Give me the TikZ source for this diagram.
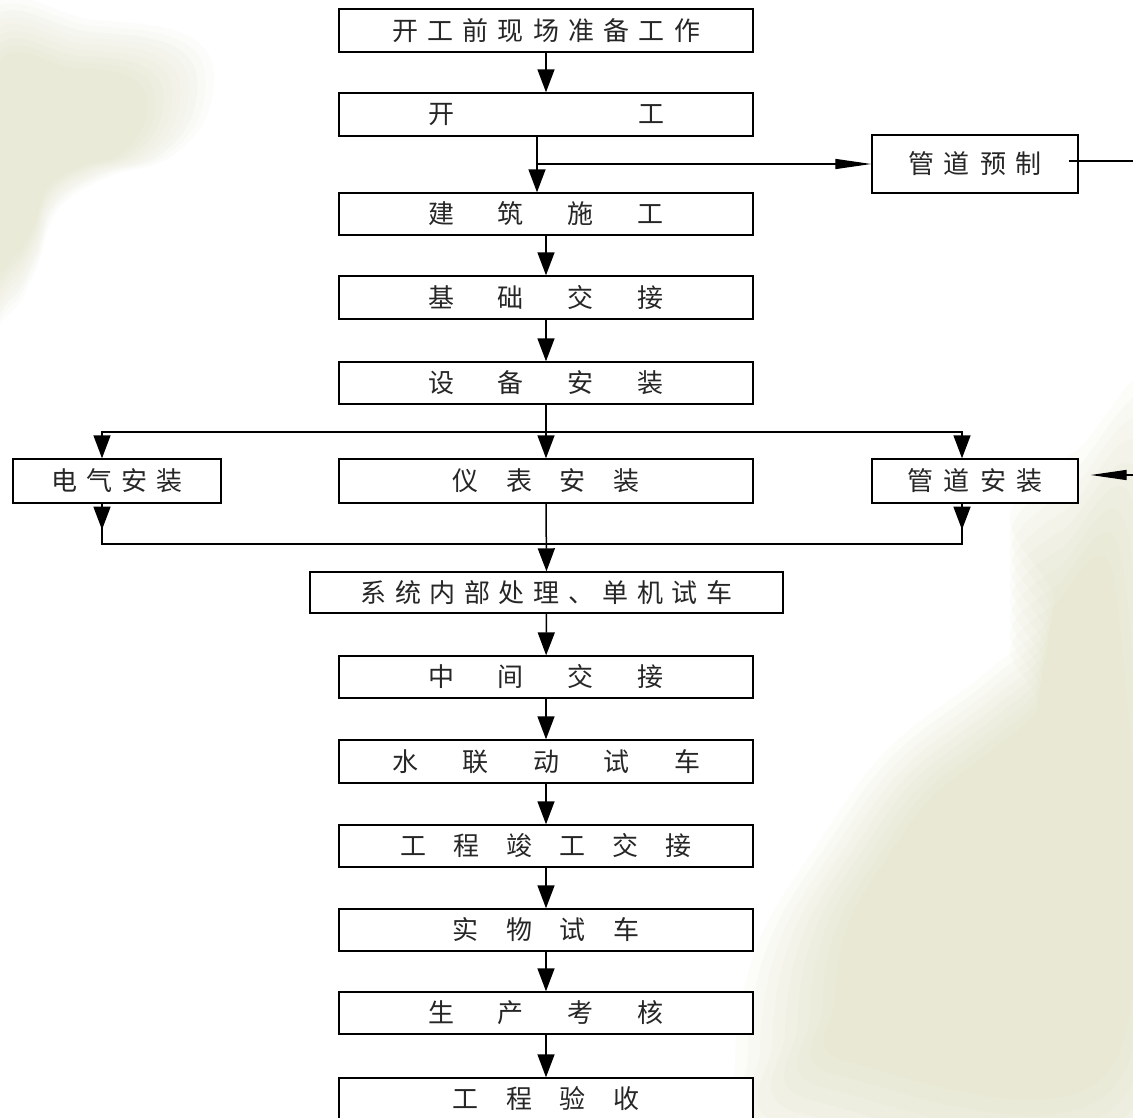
\documentclass[tikz,border=0pt]{standalone}
\usepackage{fontspec}
\newfontfamily\cjk{Noto Sans CJK SC}
\usetikzlibrary{arrows.meta}

% spread a row of characters over a fixed width
\newcommand{\spreadrow}[2]{\makebox[#1pt][s]{#2}}

\begin{document}
\begin{tikzpicture}[x=1pt,y=-1pt,
  stepbox/.style={draw=black,line width=1.4pt,inner sep=0pt,fill=white,
    minimum width=414pt,minimum height=42pt,
    font=\cjk\fontsize{26}{26}\selectfont,text=black!85},
  sidebox/.style={stepbox,minimum width=207pt},
  flow/.style={line width=1.5pt,-{Triangle[length=23pt,width=17pt]}},
  feed/.style={line width=1.3pt,-{Triangle[length=36pt,width=10pt]}},
  wire/.style={line width=1.3pt},
  leaf/.style={fill={rgb,255:red,212;green,212;blue,172}}
]
\useasboundingbox (0,0) rectangle (1133,1118);
\fill[white] (0,0) rectangle (1133,1118);

% soft leaf shapes in the background
\foreach \s in {1.10,1.05,1.0,0.95,0.9,0.85,0.8,0.75,0.7}{
  \begin{scope}[shift={(30,150)},scale=\s]
    \fill[leaf,opacity=0.06] plot[smooth cycle,tension=0.7] coordinates
      {(-50,-115) (60,-118) (150,-100) (165,-45) (130,5) (70,25) (25,55) (5,110) (-20,150) (-50,150)};
  \end{scope}
  \begin{scope}[shift={(1010,880)},scale=\s]
    \fill[leaf,opacity=0.065] plot[smooth cycle,tension=0.6] coordinates
      {(150,-420) (60,-390) (0,-330) (40,-250) (-20,-190) (-110,-120) (-170,-40) (-230,60) (-250,170) (-230,260) (150,260)};
  \end{scope}
}

% main column
\node[stepbox,minimum height=43pt] (prep) at (546,30.5) {\spreadrow{308}{开\hfill 工\hfill 前\hfill 现\hfill 场\hfill 准\hfill 备\hfill 工\hfill 作}};
\node[stepbox,minimum height=43pt] (start) at (546,114.5) {\spreadrow{236}{开\hfill 工}};
\node[stepbox] (civil) at (546,214) {\spreadrow{236}{建\hfill 筑\hfill 施\hfill 工}};
\node[stepbox,minimum height=43pt] (found) at (546,297.5) {\spreadrow{236}{基\hfill 础\hfill 交\hfill 接}};
\node[stepbox] (equip) at (546,383) {\spreadrow{236}{设\hfill 备\hfill 安\hfill 装}};
\node[stepbox,minimum height=44pt] (inst) at (546,481) {\spreadrow{187}{仪\hfill 表\hfill 安\hfill 装}};
\node[stepbox,minimum width=473pt,minimum height=41pt] (sys) at (546.5,592.5) {\spreadrow{372}{系\hfill 统\hfill 内\hfill 部\hfill 处\hfill 理\hfill 、\hfill 单\hfill 机\hfill 试\hfill 车}};
\node[stepbox] (mid) at (546,677) {\spreadrow{236}{中\hfill 间\hfill 交\hfill 接}};
\node[stepbox,minimum height=43pt] (water) at (546,761.5) {\spreadrow{308}{水\hfill 联\hfill 动\hfill 试\hfill 车}};
\node[stepbox] (handover) at (546,846) {\spreadrow{292}{工\hfill 程\hfill 竣\hfill 工\hfill 交\hfill 接}};
\node[stepbox] (trial) at (546,930) {\spreadrow{187}{实\hfill 物\hfill 试\hfill 车}};
\node[stepbox] (assess) at (546,1013) {\spreadrow{236}{生\hfill 产\hfill 考\hfill 核}};
\node[stepbox] (accept) at (546,1099) {\spreadrow{187}{工\hfill 程\hfill 验\hfill 收}};

% side branches
\node[sidebox,minimum width=208pt,minimum height=44pt] (elec) at (117,481) {\spreadrow{131}{电\hfill 气\hfill 安\hfill 装}};
\node[sidebox,minimum width=206pt,minimum height=44pt] (pipe) at (975,481) {\spreadrow{135}{管\hfill 道\hfill 安\hfill 装}};
\node[sidebox,minimum width=206pt,minimum height=58pt] (prefab) at (975,164) {\spreadrow{134}{管\hfill 道\hfill 预\hfill 制}};

% main flow
\draw[flow] (prep) -- (start);
\draw[flow] ([xshift=-9pt]start.south) -- ([xshift=-9pt]civil.north);
\draw[flow] (civil) -- (found);
\draw[flow] (found) -- (equip);

% start branches to pipe prefabrication
\coordinate (split) at ([xshift=-9pt]start.south |- prefab.west);
\draw[feed] (split) -- (prefab.west);

% prefabricated pipes fed back to pipe installation
\coordinate (feedOut) at ([xshift=-10pt,yshift=3pt]prefab.east);
\coordinate (feedIn) at ([xshift=12pt,yshift=6pt]pipe.east);
\draw[feed] (feedOut) -- ++(72,0) |- (feedIn);

% fork after equipment installation
\coordinate (fork) at (546,432);
\draw[wire] (equip.south) -- (fork);
\draw[flow] (fork) -| ([xshift=-15pt]elec.north);
\draw[flow] (fork) -| ([xshift=-13pt]pipe.north);
\draw[flow] (fork) -- (inst.north);

% join before system treatment
\coordinate (join) at (546,544);
\draw[flow] ([xshift=-15pt]elec.south) -- ++(0,26);
\draw[wire] ([xshift=-15pt]elec.south) |- (join);
\draw[flow] ([xshift=-13pt]pipe.south) -- ++(0,26);
\draw[wire] ([xshift=-13pt]pipe.south) |- (join);
\draw[flow] (inst.south) -- (sys.north);

% commissioning sequence
\draw[flow] (sys) -- (mid);
\draw[flow] (mid) -- (water);
\draw[flow] (water) -- (handover);
\draw[flow] (handover) -- (trial);
\draw[flow] (trial) -- (assess);
\draw[flow] (assess) -- (accept);
\end{tikzpicture}
\end{document}
